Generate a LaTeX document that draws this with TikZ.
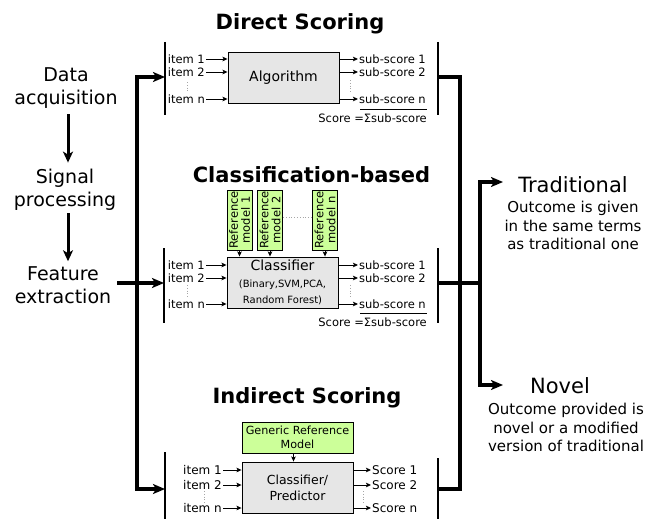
\documentclass[tikz,border=0pt]{standalone}
\usepackage{fontspec}
\setmainfont{DejaVu Sans}
\usetikzlibrary{arrows.meta}
\definecolor{boxgray}{HTML}{E6E6E6}
\definecolor{boxgreen}{HTML}{CCFF99}
\begin{document}
\begin{tikzpicture}[x=1pt,y=-1pt,
  trunk/.style={line width=4pt, line join=miter},
  bigtip/.style={-{Stealth[length=12pt,width=10pt,inset=3pt]}},
  stagearrow/.style={line width=3pt,-{Stealth[length=11pt,width=10pt,inset=3pt]}},
  smallarrow/.style={line width=0.9pt,-{Stealth[length=5pt,width=4.5pt,inset=1pt]}},
  bar/.style={line width=1.5pt},
  box/.style={draw, line width=0.9pt, fill=boxgray, minimum width=111pt, minimum height=51pt, inner sep=0pt, align=center},
  refbox/.style={draw, line width=0.9pt, fill=boxgreen, inner sep=0pt, align=center},
  itemlab/.style={font=\fontsize{11.5}{12}\selectfont, inner sep=1pt, anchor=east},
  outlab/.style={font=\fontsize{11.5}{12}\selectfont, inner sep=1pt, anchor=west},
  dotline/.style={gray!70, dotted, line width=0.8pt},
  titletext/.style={font=\fontsize{21}{24}\selectfont\bfseries, anchor=base},
  stage/.style={font=\fontsize{19}{23}\selectfont, align=center, inner sep=2pt},
  outtitle/.style={font=\fontsize{21}{24}\selectfont, anchor=base},
  outdesc/.style={font=\fontsize{15}{18.5}\selectfont, align=center, inner sep=0pt}
]
\useasboundingbox (0,0) rectangle (650,519);

% ---------------- left stages
\node[stage] (da) at (66,88.5) {Data\\acquisition};
\node[stage] (sp) at (65,189.5) {Signal\\processing};
\node[stage] (fe) at (63,285) {Feature\\extraction};
\draw[stagearrow, shorten <=3pt, shorten >=4pt] (da.south -| 68,0) -- (sp.north -| 68,0);
\draw[stagearrow, shorten <=1pt, shorten >=3pt] (sp.south -| 68,0) -- (fe.north -| 68,0);

% ---------------- Direct scoring
\node[titletext] (tD) at (300,30) {Direct Scoring};
\coordinate (dLt) at (165,42); \coordinate (dLb) at (165,115);
\coordinate (dRt) at (438,42); \coordinate (dRb) at (438,115);
\draw[bar] (dLt) -- (dLb);
\draw[bar] (dRt) -- (dRb);
\node[box, font=\fontsize{14}{16}\selectfont] (alg) at (283.5,77.5) {Algorithm};
\node[itemlab] (d1) at (206,59) {item 1};
\node[itemlab] (d2) at (206,72) {item 2};
\node[itemlab] (dn) at (206,99) {item n};
\draw[smallarrow] (d1.east) -- (alg.west |- d1.east);
\draw[smallarrow] (d2.east) -- (alg.west |- d2.east);
\draw[smallarrow] (dn.east) -- (alg.west |- dn.east);
\draw[dotline] (187,82) -- (187,93);
\node[outlab] (o1) at (358,59) {sub-score 1};
\node[outlab] (o2) at (358,72) {sub-score 2};
\node[outlab] (on) at (358,99) {sub-score n};
\draw[smallarrow] (alg.east |- o1.west) -- (o1.west);
\draw[smallarrow] (alg.east |- o2.west) -- (o2.west);
\draw[smallarrow] (alg.east |- on.west) -- (on.west);
\draw[dotline] (350,80) -- (350,92);
\coordinate (dsl) at (360,109); \coordinate (dsr) at (427,109);
\draw[line width=0.8pt] (dsl) -- (dsr);
\node[font=\fontsize{11.5}{12}\selectfont, inner sep=1pt, anchor=east] (dsc) at (428,118) {Score =Σsub-score};

% ---------------- Classification-based
\node[titletext] (tC) at (311.5,182) {Classification-based};
\coordinate (cLt) at (164,248); \coordinate (cLb) at (164,323);
\coordinate (cRt) at (438,248); \coordinate (cRb) at (438,323);
\draw[bar] (cLt) -- (cLb);
\draw[bar] (cRt) -- (cRb);
\node[refbox, rotate=90, minimum width=60pt, minimum height=25pt, font=\fontsize{11.5}{12}\selectfont] (rm1) at (239.5,220) {Reference\\model 1};
\node[refbox, rotate=90, minimum width=60pt, minimum height=25pt, font=\fontsize{11.5}{12}\selectfont] (rm2) at (270,220) {Reference\\model 2};
\node[refbox, rotate=90, minimum width=60pt, minimum height=25pt, font=\fontsize{11.5}{12}\selectfont] (rmn) at (325,220) {Reference\\model n};
\draw[dotline] ([yshift=3pt]rm2.south) -- ([yshift=3pt]rmn.north);
\node[box, font=\fontsize{14}{16}\selectfont] (cls) at (282.5,282.5) {Classifier\\[1pt]{\fontsize{10}{13}\selectfont (Binary,SVM,PCA,}\\{\fontsize{10}{13}\selectfont Random Forest)}};
\draw[smallarrow] (rm1.west) -- (cls.north -| rm1.west);
\draw[smallarrow] (rm2.west) -- (cls.north -| rm2.west);
\draw[smallarrow] (rmn.west) -- (cls.north -| rmn.west);
\node[itemlab] (c1) at (206,265) {item 1};
\node[itemlab] (c2) at (206,278) {item 2};
\node[itemlab] (cn) at (206,304) {item n};
\draw[smallarrow] (c1.east) -- (cls.west |- c1.east);
\draw[smallarrow] (c2.east) -- (cls.west |- c2.east);
\draw[smallarrow] (cn.east) -- (cls.west |- cn.east);
\draw[dotline] (187,285) -- (187,297);
\node[outlab] (p1) at (358,265) {sub-score 1};
\node[outlab] (p2) at (358,278) {sub-score 2};
\node[outlab] (pn) at (358,304) {sub-score n};
\draw[smallarrow] (cls.east |- p1.west) -- (p1.west);
\draw[smallarrow] (cls.east |- p2.west) -- (p2.west);
\draw[smallarrow] (cls.east |- pn.west) -- (pn.west);
\draw[dotline] (350,285) -- (350,297);
\coordinate (csl) at (360,313); \coordinate (csr) at (427,313);
\draw[line width=0.8pt] (csl) -- (csr);
\node[font=\fontsize{11.5}{12}\selectfont, inner sep=1pt, anchor=east] (csc) at (428,322) {Score =Σsub-score};

% ---------------- Indirect scoring
\node[titletext] (tI) at (307,403) {Indirect Scoring};
\coordinate (iLt) at (165,452); \coordinate (iLb) at (165,519);
\coordinate (iRt) at (438,458); \coordinate (iRb) at (438,519);
\draw[bar] (iLt) -- (iLb);
\draw[bar] (iRt) -- (iRb);
\node[refbox, minimum width=111pt, minimum height=31pt, font=\fontsize{11.2}{14}\selectfont] (gen) at (297.5,437.5) {Generic Reference\\Model};
\node[box, font=\fontsize{12.5}{16}\selectfont] (cpr) at (297.5,487.5) {Classifier/\\Predictor};
\draw[smallarrow] ([xshift=-4pt]gen.south) -- ([xshift=-4pt]cpr.north);
\node[itemlab, font=\fontsize{12}{12}\selectfont] (n1) at (223,470) {item 1};
\node[itemlab, font=\fontsize{12}{12}\selectfont] (n2) at (223,485) {item 2};
\node[itemlab, font=\fontsize{12}{12}\selectfont] (nn) at (223,508) {item n};
\draw[smallarrow] (n1.east) -- (cpr.west |- n1.east);
\draw[smallarrow] (n2.east) -- (cpr.west |- n2.east);
\draw[smallarrow] (nn.east) -- (cpr.west |- nn.east);
\draw[dotline] (204,491) -- (204,503);
\node[outlab, font=\fontsize{12}{12}\selectfont] (s1) at (371,470) {Score 1};
\node[outlab, font=\fontsize{12}{12}\selectfont] (s2) at (371,485) {Score 2};
\node[outlab, font=\fontsize{12}{12}\selectfont] (sn) at (371,508) {Score n};
\draw[smallarrow] (cpr.east |- s1.west) -- (s1.west);
\draw[smallarrow] (cpr.east |- s2.west) -- (s2.west);
\draw[smallarrow] (cpr.east |- sn.west) -- (sn.west);
\draw[dotline] (363,491) -- (363,503);

% ---------------- left trunk
\coordinate (ltTop) at (137,77); \coordinate (ltBot) at (137,489);
\coordinate (dIn) at (165,77); \coordinate (iIn) at (165,489);
\coordinate (cIn) at (164,283);
\draw[trunk, {Stealth[length=12pt,width=10pt,inset=3pt]}-{Stealth[length=12pt,width=10pt,inset=3pt]}] (dIn) -- (ltTop) -- (ltBot) -- (iIn);
\coordinate (feOut) at (117,283);
\draw[trunk, bigtip] (feOut) -- (cIn);

% ---------------- right trunk
\coordinate (dOut) at (438,77); \coordinate (rtTop) at (460,77);
\coordinate (rtBot) at (460,489); \coordinate (iOut) at (438,489);
\draw[trunk] (dOut) -- (rtTop) -- (rtBot) -- (iOut);
\coordinate (cOut) at (438,283); \coordinate (sMid) at (480,283);
\draw[trunk] (cOut) -- (sMid);
\coordinate (sTop) at (480,182); \coordinate (sBot) at (480,385);
\coordinate (tA) at (503,182); \coordinate (nA) at (503,385);
\draw[trunk, {Stealth[length=12pt,width=10pt,inset=3pt]}-{Stealth[length=12pt,width=10pt,inset=3pt]}] (tA) -- (sTop) -- (sBot) -- (nA);

% ---------------- outcomes
\node[outtitle] (trad) at (573,192) {Traditional};
\node[outdesc] (tradD) at (573,225.8) {Outcome is given\\in the same terms\\as traditional one};
\node[outtitle] (nov) at (560,393) {Novel};
\node[outdesc] (novD) at (566,427.8) {Outcome provided is\\novel or a modified\\version of traditional};
\end{tikzpicture}
\end{document}
